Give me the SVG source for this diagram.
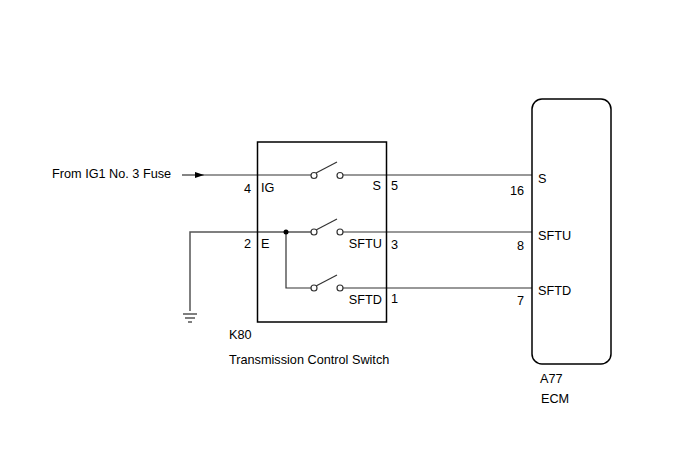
<svg xmlns="http://www.w3.org/2000/svg" width="688" height="463" viewBox="0 0 688 463">
<style>
text{font-family:"Liberation Sans",Arial,sans-serif;font-size:12.7px;fill:#000}
.w{stroke:#333;stroke-width:1.2;fill:none}
.g{stroke:#555;stroke-width:1.5;fill:none}
.box{stroke:#000;stroke-width:1.5;fill:none}
.sw{stroke:#333;stroke-width:1.2;fill:#fff}
.r{text-anchor:end}
</style>
<defs>
<marker id="arr" markerWidth="10" markerHeight="6" refX="9" refY="3" orient="auto" markerUnits="userSpaceOnUse">
<path d="M0,0 L9,3 L0,6 Z" fill="#000"/>
</marker>
</defs>
<rect width="688" height="463" fill="#fff"/>
<g id="connectors">
<line class="w" x1="182" y1="175" x2="204" y2="175" marker-end="url(#arr)"/>
<line class="w" x1="204" y1="175" x2="311" y2="175"/>
<line class="w" x1="343" y1="175" x2="532" y2="175"/>
<polyline class="g" points="190,311 190,232 311,232"/>
<line class="w" x1="343" y1="232" x2="532" y2="232"/>
<polyline class="w" points="286,232 286,288 311,288"/>
<line class="w" x1="343" y1="288" x2="532" y2="288"/>
<circle cx="286" cy="232" r="2.5" fill="#000"/>
<g id="ground">
<line class="g" x1="183" y1="314" x2="197" y2="314"/>
<line class="g" x1="185" y1="318" x2="195" y2="318"/>
<line class="g" x1="188" y1="322" x2="192" y2="322"/>
</g>
</g>
<g id="K80">
<rect class="box" x="257.5" y="142" width="129" height="180"/>
<line class="w" x1="316" y1="173" x2="337" y2="162"/>
<circle class="sw" cx="314" cy="175.5" r="3"/>
<circle class="sw" cx="340" cy="175.5" r="3"/>
<line class="w" x1="316" y1="230" x2="337" y2="219"/>
<circle class="sw" cx="314" cy="232" r="3"/>
<circle class="sw" cx="340" cy="232" r="3"/>
<line class="w" x1="316" y1="286" x2="337" y2="275"/>
<circle class="sw" cx="314" cy="288" r="3"/>
<circle class="sw" cx="340" cy="288" r="3"/>
<text x="251" y="193" class="r">4</text>
<text x="261" y="192">IG</text>
<text x="381" y="190" class="r">S</text>
<text x="391" y="190">5</text>
<text x="251" y="248" class="r">2</text>
<text x="261" y="248">E</text>
<text x="382" y="248" class="r">SFTU</text>
<text x="391" y="249">3</text>
<text x="382" y="304" class="r">SFTD</text>
<text x="391" y="303">1</text>
<text x="229" y="339">K80</text>
<text x="229" y="364">Transmission Control Switch</text>
</g>
<g id="A77">
<rect class="box" x="532" y="99" width="79" height="265" rx="10" ry="10"/>
<text x="538" y="183">S</text>
<text x="524" y="195" class="r">16</text>
<text x="538" y="240">SFTU</text>
<text x="524" y="250" class="r">8</text>
<text x="538" y="295">SFTD</text>
<text x="524" y="305" class="r">7</text>
<text x="540" y="383">A77</text>
<text x="541" y="403">ECM</text>
</g>
<g id="source">
<text x="52" y="178">From IG1 No. 3 Fuse</text>
</g>
</svg>
